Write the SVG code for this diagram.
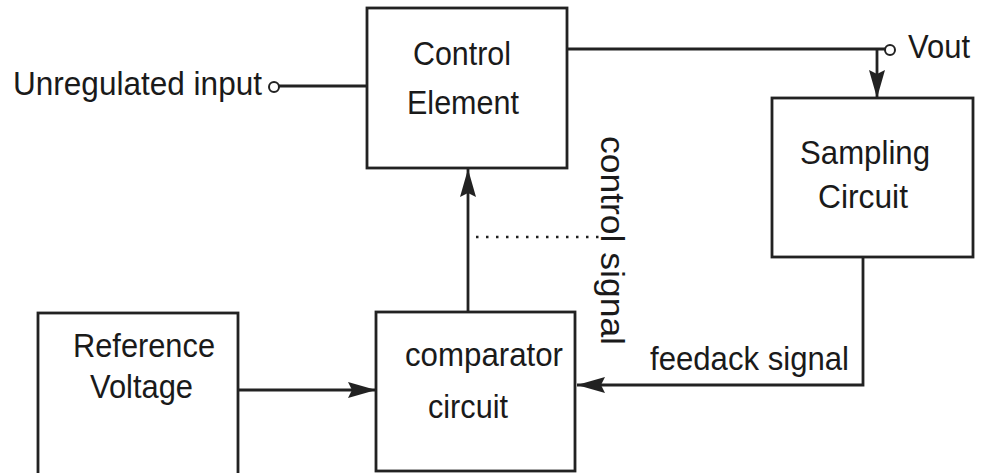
<svg xmlns="http://www.w3.org/2000/svg" width="983" height="473" viewBox="0 0 983 473">
<style>
.box{fill:#fff;stroke:#222;stroke-width:2.8}
.ln{fill:none;stroke:#222;stroke-width:2.8}
.t{font-family:"Liberation Sans",Arial,sans-serif;font-size:34px;fill:#1a1a1a}
</style>
<defs>
<marker id="ah" markerWidth="28" markerHeight="16" refX="28" refY="8" orient="auto" markerUnits="userSpaceOnUse">
<path d="M0,0 L28,8 L0,16 L4,8 Z" fill="#222"/>
</marker>
</defs>
<rect width="983" height="473" fill="#fff"/>
<g id="connectors">
<line class="ln" x1="279" y1="86" x2="367" y2="86"/>
<line class="ln" x1="567" y1="49" x2="885" y2="49"/>
<line class="ln" x1="877" y1="49" x2="877" y2="98" marker-end="url(#ah)"/>
<line class="ln" x1="468" y1="312" x2="468" y2="169" marker-end="url(#ah)"/>
<line class="ln" x1="238" y1="390" x2="376" y2="390" marker-end="url(#ah)"/>
<polyline class="ln" points="863,257 863,385 577,385" marker-end="url(#ah)"/>
<line x1="476" y1="237" x2="602" y2="237" stroke="#222" stroke-width="2.6" stroke-dasharray="2.5 7.5"/>
<circle cx="274" cy="87" r="5" fill="#fff" stroke="#222" stroke-width="2"/>
<circle cx="890" cy="50" r="5" fill="#fff" stroke="#222" stroke-width="2"/>
</g>
<g id="input-label"><text class="t" x="13" y="95" textLength="249" lengthAdjust="spacingAndGlyphs">Unregulated input</text></g>
<g id="vout-label"><text class="t" x="908" y="58" textLength="62" lengthAdjust="spacingAndGlyphs">Vout</text></g>
<g id="control-element">
<rect class="box" x="367" y="8" width="200" height="160"/>
<text class="t" x="413" y="65" textLength="98" lengthAdjust="spacingAndGlyphs">Control</text>
<text class="t" x="407" y="114" textLength="112" lengthAdjust="spacingAndGlyphs">Element</text>
</g>
<g id="sampling-circuit">
<rect class="box" x="772" y="98" width="201" height="159"/>
<text class="t" x="800" y="164" textLength="130" lengthAdjust="spacingAndGlyphs">Sampling</text>
<text class="t" x="818" y="208" textLength="90" lengthAdjust="spacingAndGlyphs">Circuit</text>
</g>
<g id="reference-voltage">
<rect class="box" x="38" y="313" width="200" height="165"/>
<text class="t" x="73" y="357" textLength="142" lengthAdjust="spacingAndGlyphs">Reference</text>
<text class="t" x="90" y="398" textLength="103" lengthAdjust="spacingAndGlyphs">Voltage</text>
</g>
<g id="comparator-circuit">
<rect class="box" x="376" y="312" width="199" height="159"/>
<text class="t" x="405" y="366" textLength="158" lengthAdjust="spacingAndGlyphs">comparator</text>
<text class="t" x="428" y="418" textLength="80" lengthAdjust="spacingAndGlyphs">circuit</text>
</g>
<g id="control-signal-label"><text class="t" transform="translate(601,136) rotate(90)" textLength="209" lengthAdjust="spacingAndGlyphs">control signal</text></g>
<g id="feedback-label"><text class="t" x="650" y="370" textLength="199" lengthAdjust="spacingAndGlyphs">feedack signal</text></g>
</svg>
